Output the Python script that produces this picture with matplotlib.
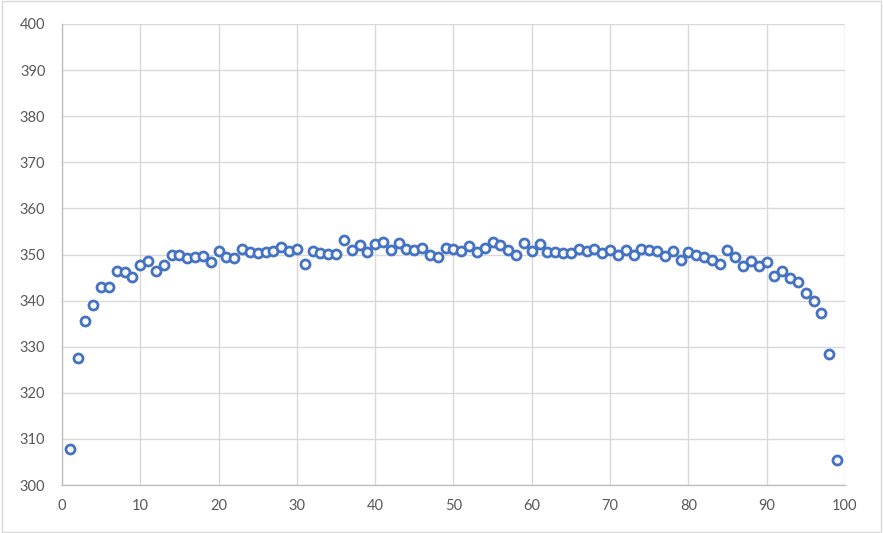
import matplotlib
matplotlib.use("Agg")
import matplotlib.pyplot as plt
from matplotlib.patches import Rectangle

# sample index and measured value
x = list(range(1, 100))
y = [307.8, 327.5, 335.5, 339.0, 343.0, 343.0, 346.5, 346.3, 345.2, 347.7,
     348.5, 346.5, 347.8, 350.0, 349.8, 349.2, 349.4, 349.6, 348.3, 350.7,
     349.5, 349.2, 351.1, 350.6, 350.4, 350.6, 350.8, 351.7, 350.7, 351.3,
     348.0, 350.8, 350.3, 350.2, 350.2, 353.2, 351.0, 352.0, 350.5, 352.2,
     352.8, 350.9, 352.4, 351.3, 351.0, 351.5, 349.8, 349.5, 351.4, 351.3,
     350.8, 351.8, 350.5, 351.4, 352.8, 352.0, 351.0, 350.0, 352.4, 350.7,
     352.2, 350.6, 350.6, 350.3, 350.4, 351.1, 350.7, 351.3, 350.3, 351.0,
     349.8, 350.9, 349.8, 351.2, 351.0, 350.8, 349.6, 350.7, 348.8, 350.6,
     349.9, 349.5, 348.8, 347.9, 351.0, 349.4, 347.6, 348.7, 347.6, 348.3,
     345.3, 346.5, 345.0, 344.0, 341.7, 340.0, 337.3, 328.4, 305.5]

x_ticks = list(range(0, 101, 10))
y_ticks = list(range(300, 401, 10))

plt.rcParams['font.family'] = ['Lato', 'DejaVu Sans']

fig = plt.figure(figsize=(8.83, 5.33), dpi=100)
ax = fig.add_axes([0.0702, 0.090, 0.8867, 0.865])

ax.plot(x, y, linestyle='none', marker='o', markersize=6.5,
        markerfacecolor='white', markeredgecolor='#4472C4',
        markeredgewidth=2.0, zorder=3)

ax.set_xlim(0, 100)
ax.set_ylim(300, 400)
ax.set_xticks(x_ticks)
ax.set_yticks(y_ticks)
ax.grid(True, color='#D9D9D9', linewidth=1.0)
ax.set_axisbelow(True)

for side in ['top', 'right']:
    ax.spines[side].set_visible(False)
for side in ['left', 'bottom']:
    ax.spines[side].set_color('#BFBFBF')
    ax.spines[side].set_linewidth(1.0)

ax.tick_params(length=0, labelsize=10.5, labelcolor='#595959', pad=10)
ax.tick_params(axis='y', pad=12)

# light outer border like the chart frame
fig.patches.append(Rectangle((0.002, 0.002), 0.996, 0.996, transform=fig.transFigure,
                             fill=False, edgecolor='#D9D9D9', linewidth=1.0))

fig.savefig('out.png', dpi=100)
